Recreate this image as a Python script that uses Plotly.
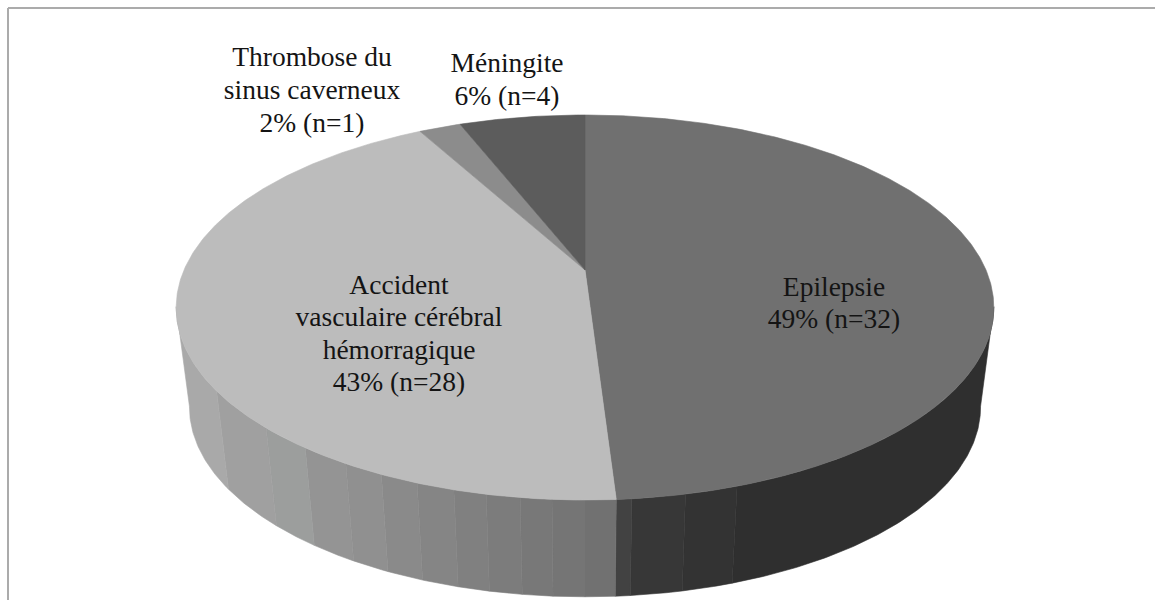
import numpy as np
import plotly.graph_objects as go

# ---- data ----
categories = ["Epilepsie", "Accident vasculaire cérébral hémorragique",
              "Thrombose du sinus caverneux", "Méningite"]
percent = [49, 43, 2, 6]
counts = [32, 28, 1, 4]
name_lines = [["Epilepsie"],
              ["Accident", "vasculaire cérébral", "hémorragique"],
              ["Thrombose du", "sinus caverneux"],
              ["Méningite"]]

# ---- styles ----
top_colors = ["#707070", "#bcbcbc", "#8c8c8c", "#5c5c5c"]
wall_edges_dark = [101, 162, 168.3, 174.6, 176.4]
wall_colors_dark = ["#2f2f2f", "#333333", "#373737", "#424242"]
wall_edges_light = [176.4, 180, 183.8, 187.5, 191.5, 195.4, 200, 204.7, 209.7, 216, 223, 234.6, 259]
wall_colors_light = ["#717171", "#757575", "#787878", "#7c7c7c", "#808080", "#858585",
                     "#8a8a8a", "#909090", "#949494", "#9c9e9d", "#a0a0a0", "#a9a9a9"]
label_anchor = [(834, 289), (399, 287), (312, 59), (507, 65)]
line_gap = [32, 32.5, 33, 33]
FONT = "Liberation Serif"
FONT_SIZE = 27.5

# ---- projection of the disc (perspective) ----
CX, K = 585.0, 0.1948
TOP = dict(apex=270.0, a=185.2, b=401.0)
LOW = dict(apex=370.0, a=182.6, b=388.0)


def rim(theta_deg, p):
    t = np.radians(np.asarray(theta_deg, dtype=float))
    x, y = np.sin(t), np.cos(t)
    d = 1 + K * y
    return CX + p["b"] * x / d, p["apex"] - p["a"] * y / d


def arc(a, b):
    n = max(2, int(abs(b - a) / 0.5) + 2)
    return np.linspace(a, b, n)


fig = go.Figure()

# side wall
for edges, colors in ((wall_edges_dark, wall_colors_dark), (wall_edges_light, wall_colors_light)):
    for i, c in enumerate(colors):
        th = arc(edges[i], edges[i + 1])
        xt, yt = rim(th, TOP)
        xl, yl = rim(th[::-1], LOW)
        fig.add_trace(go.Scatter(
            x=np.r_[xt, xl, xt[0]], y=np.r_[yt, yl, yt[0]], mode="lines", fill="toself",
            fillcolor=c, line=dict(color=c, width=0.6), hoverinfo="skip", showlegend=False))

# top face
cum = np.r_[0, np.cumsum(percent)] / sum(percent) * 360
for i, c in enumerate(top_colors):
    xs, ys = rim(arc(cum[i], cum[i + 1]), TOP)
    ax, ay = rim(0, TOP)[0], TOP["apex"]
    fig.add_trace(go.Scatter(
        x=np.r_[ax, xs, ax], y=np.r_[ay, ys, ay], mode="lines", fill="toself",
        fillcolor=c, line=dict(color=c, width=0.6), name=categories[i],
        hoverinfo="name", showlegend=False))

# labels
tx, ty, tt = [], [], []
for i in range(len(categories)):
    lines = name_lines[i] + [f"{percent[i]}% (n={counts[i]})"]
    for j, s in enumerate(lines):
        tx.append(label_anchor[i][0])
        ty.append(label_anchor[i][1] + j * line_gap[i])
        tt.append(s)
fig.add_trace(go.Scatter(x=tx, y=ty, text=tt, mode="text", textposition="middle center",
                         textfont=dict(family=FONT, size=FONT_SIZE, color="#141414"),
                         hoverinfo="skip", showlegend=False))

# frame
frame = dict(color="#ababab", width=2)
fig.add_shape(type="line", xref="paper", yref="paper", x0=8 / 1155, x1=8 / 1155, y0=0, y1=1 - 8 / 600, line=frame)
fig.add_shape(type="line", xref="paper", yref="paper", x0=8 / 1155, x1=1, y0=1 - 8 / 600, y1=1 - 8 / 600, line=frame)

fig.update_layout(
    width=1155, height=600, margin=dict(l=0, r=0, t=0, b=0),
    paper_bgcolor="white", plot_bgcolor="white",
    xaxis=dict(range=[0, 1155], visible=False, fixedrange=True),
    yaxis=dict(range=[600, 0], visible=False, fixedrange=True),
)
fig.write_html("out.html", config={"displayModeBar": False},
               post_script="document.documentElement.style.overflow='hidden';document.body.style.margin='0';")
